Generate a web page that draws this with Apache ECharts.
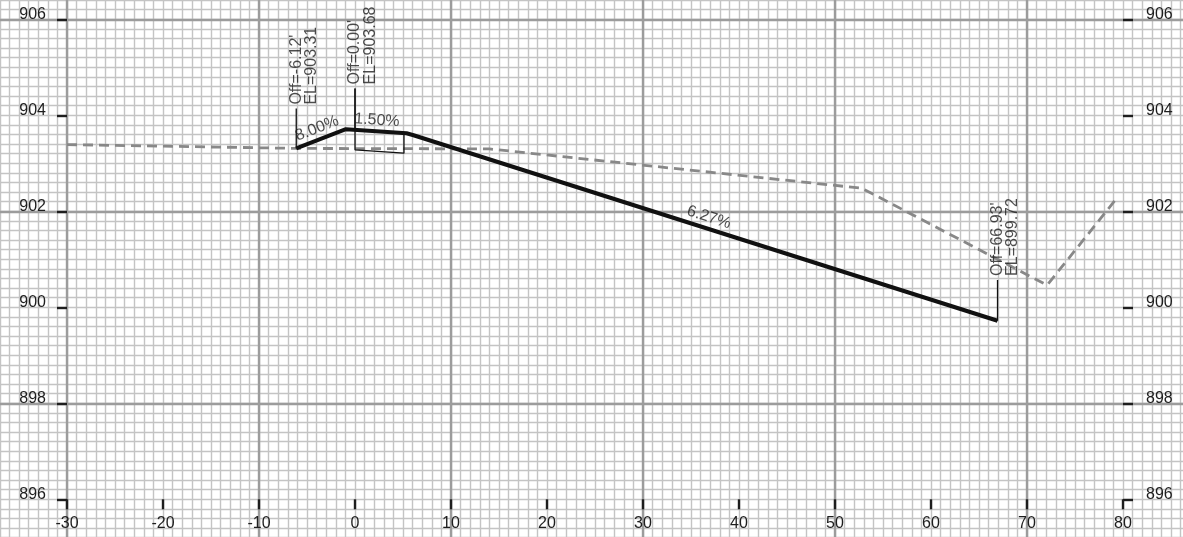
<!DOCTYPE html>
<html><head><meta charset="utf-8">
<script src="https://cdn.jsdelivr.net/npm/echarts@6/dist/echarts.min.js"></script>
<style>html,body{margin:0;padding:0;background:#fff}#c{width:1183px;height:537px}</style>
</head><body><div id="c"></div>
<script>
// ---- data ----
const xRange = [-30, 80];          // offset axis (ft)
const xLabelStep = 10;
const yRange = [896, 906];         // elevation axis
const yLabelStep = 2;

const groundOffset = [-30, -6, 14, 52.8, 72.1, 79.5];
const groundElev   = [903.39, 903.31, 903.30, 902.48, 900.46, 902.31];

const profileOffset = [-6.12, -0.95, 5.37, 6.1, 66.93];
const profileElev   = [903.31, 903.71, 903.625, 903.585, 899.72];
const slopeText     = ['8.00%', '1.50%', '', '6.27%'];

const stationOffset    = [-6.12, 0.00, 66.93];
const stationElev      = [903.31, 903.68, 899.72];
const stationLeaderTop = [904.14, 904.56, 900.57];
const stationOffText   = ["Off=-6.12'", "Off=0.00'", "Off=66.93'"];
const stationElText    = ['EL=903.31', 'EL=903.68', 'EL=899.72'];

const bracketOffset = [0, 0, 5.1, 5.1];
const bracketElev   = [904.56, 903.28, 903.21, 903.63];

// ---- layout ----
const W = 1183, H = 537;
const G = {left: 67, right: 60, top: 19.3, bottom: 37.7};
const pxX = (W - G.left - G.right) / (xRange[1] - xRange[0]);
const pxY = (H - G.top - G.bottom) / (yRange[1] - yRange[0]);
const bgX = [-50, 100], bgY = [894, 910];
const BG = {
  left: G.left - (xRange[0] - bgX[0]) * pxX,
  right: G.right - (bgX[1] - xRange[1]) * pxX,
  top: G.top - (bgY[1] - yRange[1]) * pxY,
  bottom: G.bottom - (yRange[0] - bgY[0]) * pxY
};

const FONT = "'Liberation Sans', Arial, sans-serif";
const TXT = '#1e1e1e';
const FS = 16;

const zip = (a, b) => a.map((v, i) => [v, b[i]]);

const hiddenAxis = (extra) => Object.assign({
  gridIndex: 1, type: 'value',
  axisLine: {show: false}, axisTick: {show: false}, axisLabel: {show: false},
  splitLine: {show: true}
}, extra);

const minorLine = {show: true, lineStyle: {color: '#c4c4c4', width: 1.4}};
const majorLine = {show: true, lineStyle: {color: '#9c9c9c', width: 2.4}};

const tickStyle = {show: true, inside: false, length: 10, lineStyle: {color: TXT, width: 2.4}};

const chart = echarts.init(document.getElementById('c'), null, {renderer: 'canvas'});

const profileData = zip(profileOffset, profileElev);

const leaderSeries = stationOffset.map((x, i) => ({
  type: 'line', xAxisIndex: 0, yAxisIndex: 0, symbol: 'none', silent: true, z: 4,
  lineStyle: {color: '#111', width: 1.3},
  data: [[x, stationElev[i]], [x, stationLeaderTop[i]]]
}));

function slopeLabelData(angles) {
  const out = [];
  for (let i = 0; i < slopeText.length; i++) {
    if (!slopeText[i]) continue;
    out.push({
      value: [(profileOffset[i] + profileOffset[i + 1]) / 2, (profileElev[i] + profileElev[i + 1]) / 2],
      label: {formatter: slopeText[i], rotate: angles ? angles[i] : 0}
    });
  }
  return out;
}

const yLabel = (margin) => ({show: true, color: TXT, fontSize: FS, fontFamily: FONT, margin: margin,
  verticalAlign: 'bottom', lineHeight: 10, showMinLabel: true, showMaxLabel: true, hideOverlap: false});

const option = {
  backgroundColor: '#fff',
  animation: false,
  grid: [
    {left: G.left, right: G.right, top: G.top, bottom: G.bottom, containLabel: false, outerBoundsMode: 'none'},
    {left: BG.left, right: BG.right, top: BG.top, bottom: BG.bottom, containLabel: false, outerBoundsMode: 'none'}
  ],
  xAxis: [
    {gridIndex: 0, type: 'value', position: 'bottom', min: xRange[0], max: xRange[1], interval: xLabelStep, z: 5,
      axisLine: {show: false, onZero: false}, axisTick: tickStyle, splitLine: {show: false},
      axisLabel: {show: true, color: TXT, fontSize: FS, fontFamily: FONT, margin: 16, lineHeight: 16,
        showMinLabel: true, showMaxLabel: true, hideOverlap: false}},
    hiddenAxis({position: 'bottom', min: bgX[0], max: bgX[1], interval: 1, z: 0, splitLine: minorLine}),
    hiddenAxis({position: 'top', min: bgX[0], max: bgX[1], interval: 20, z: 1, splitLine: majorLine})
  ],
  yAxis: [
    {gridIndex: 0, type: 'value', position: 'left', min: yRange[0], max: yRange[1], interval: yLabelStep, z: 5,
      axisLine: {show: false, onZero: false}, axisTick: tickStyle, splitLine: {show: false},
      axisLabel: yLabel(21)},
    {gridIndex: 0, type: 'value', position: 'right', min: yRange[0], max: yRange[1], interval: yLabelStep, z: 5,
      axisLine: {show: false, onZero: false}, axisTick: tickStyle, splitLine: {show: false},
      axisLabel: yLabel(23)},
    hiddenAxis({position: 'left', min: bgY[0], max: bgY[1], interval: 0.2, z: 0, splitLine: minorLine}),
    hiddenAxis({position: 'right', min: bgY[0], max: bgY[1], interval: 4, z: 1, splitLine: majorLine})
  ],
  series: [
    {type: 'line', name: 'ground', xAxisIndex: 0, yAxisIndex: 0, symbol: 'none', silent: true, z: 3,
      lineStyle: {color: '#888888', width: 2.8, type: [10, 6]},
      data: zip(groundOffset, groundElev)},
    {type: 'line', name: 'profile', xAxisIndex: 0, yAxisIndex: 0, symbol: 'none', silent: true, z: 5,
      lineStyle: {color: '#111', width: 4, join: 'round'},
      data: profileData},
    ...leaderSeries,
    {type: 'line', name: 'bracket', xAxisIndex: 0, yAxisIndex: 0, symbol: 'none', silent: true, z: 4,
      lineStyle: {color: '#111', width: 1.3},
      data: zip(bracketOffset, bracketElev)},
    {type: 'scatter', name: 'slopes', xAxisIndex: 0, yAxisIndex: 0, symbolSize: 1, silent: true, z: 6,
      itemStyle: {color: 'rgba(0,0,0,0)'},
      label: {show: true, position: 'inside', align: 'center', verticalAlign: 'bottom', padding: [0, 0, 3, 0],
        color: TXT, fontSize: FS, fontFamily: FONT, lineHeight: 16},
      data: slopeLabelData(null)},
    {type: 'scatter', name: 'offLabels', xAxisIndex: 0, yAxisIndex: 0, symbolSize: 1, silent: true, z: 6,
      itemStyle: {color: 'rgba(0,0,0,0)'},
      label: {show: true, position: 'inside', rotate: 90, align: 'left', verticalAlign: 'middle',
        padding: [0, 0, 0, 4], color: TXT, fontSize: FS, fontFamily: FONT, lineHeight: 16,
        formatter: p => stationOffText[p.dataIndex]},
      data: zip(stationOffset, stationLeaderTop)},
    {type: 'scatter', name: 'elLabels', xAxisIndex: 0, yAxisIndex: 0, symbolSize: 1, silent: true, z: 6,
      itemStyle: {color: 'rgba(0,0,0,0)'},
      label: {show: true, position: 'inside', rotate: 90, align: 'left', verticalAlign: 'top',
        padding: [0, 0, 0, 4], color: TXT, fontSize: FS, fontFamily: FONT, lineHeight: 31,
        formatter: p => stationElText[p.dataIndex]},
      data: zip(stationOffset, stationLeaderTop)}
  ]
};

chart.setOption(option);

// slope label angles from the rendered scales
const angles = profileOffset.slice(0, -1).map((x, i) => {
  const p0 = chart.convertToPixel({xAxisIndex: 0, yAxisIndex: 0}, [profileOffset[i], profileElev[i]]);
  const p1 = chart.convertToPixel({xAxisIndex: 0, yAxisIndex: 0}, [profileOffset[i + 1], profileElev[i + 1]]);
  return -Math.atan2(p1[1] - p0[1], p1[0] - p0[0]) * 180 / Math.PI;
});
chart.setOption({series: [{name: 'slopes', data: slopeLabelData(angles)}]});
</script>
</body></html>
